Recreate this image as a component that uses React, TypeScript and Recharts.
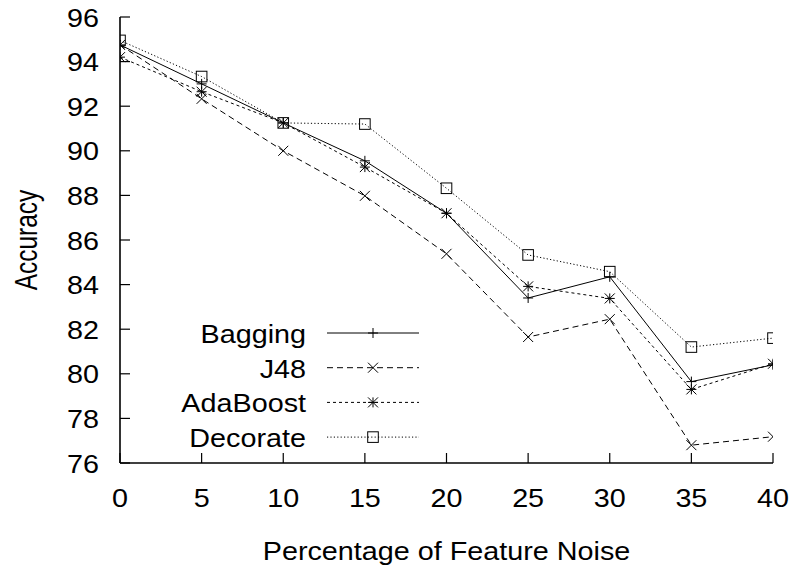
import React from 'react';
import { LineChart, Line, XAxis, YAxis, Legend } from 'recharts';

const noiseLevels = [0, 5, 10, 15, 20, 25, 30, 35, 40];
const bagging = [94.75, 93.0, 91.25, 89.55, 87.2, 83.4, 84.35, 79.65, 80.4];
const j48 = [94.75, 92.33, 90.0, 87.98, 85.38, 81.65, 82.45, 76.8, 77.18];
const adaboost = [94.2, 92.65, 91.25, 89.27, 87.2, 83.92, 83.38, 79.3, 80.45];
const decorate = [94.95, 93.33, 91.25, 91.2, 88.32, 85.33, 84.58, 81.2, 81.6];
const yTicks = [76, 78, 80, 82, 84, 86, 88, 90, 92, 94, 96];
const xTicks = [0, 5, 10, 15, 20, 25, 30, 35, 40];
const xTitle = 'Percentage of Feature Noise';
const yTitle = 'Accuracy';

const data = noiseLevels.map((x, i) => ({
  x,
  Bagging: bagging[i],
  J48: j48[i],
  AdaBoost: adaboost[i],
  Decorate: decorate[i],
}));

const FONT = '"Liberation Sans", Arial, Helvetica, sans-serif';
const FS = 25;
const SX = 1.15;
const TICK_LEN = 10;

type MarkerKind = 'plus' | 'cross' | 'star' | 'square';

const Marker = ({ cx, cy, kind }: { cx: number; cy: number; kind: MarkerKind }) => {
  const r = 5;
  if (kind === 'plus') {
    return <path d={`M${cx - r},${cy}h${2 * r}M${cx},${cy - r}v${2 * r}`} stroke="#000" strokeWidth={1} fill="none" />;
  }
  if (kind === 'cross') {
    return <path d={`M${cx - r},${cy - r}L${cx + r},${cy + r}M${cx - r},${cy + r}L${cx + r},${cy - r}`} stroke="#000" strokeWidth={1} fill="none" />;
  }
  if (kind === 'star') {
    return (
      <path
        d={`M${cx - r},${cy}h${2 * r}M${cx},${cy - r}v${2 * r}M${cx - r},${cy - r}L${cx + r},${cy + r}M${cx - r},${cy + r}L${cx + r},${cy - r}`}
        stroke="#000"
        strokeWidth={1}
        fill="none"
      />
    );
  }
  return <rect x={cx - 5.3} y={cy - 5.3} width={10.6} height={10.6} stroke="#000" strokeWidth={1} fill="none" />;
};

const series: { key: string; dash?: string; marker: MarkerKind }[] = [
  { key: 'Bagging', marker: 'plus' },
  { key: 'J48', dash: '6 4', marker: 'cross' },
  { key: 'AdaBoost', dash: '3 3', marker: 'star' },
  { key: 'Decorate', dash: '1.2 2.2', marker: 'square' },
];

const makeDot = (kind: MarkerKind, name: string) => (p: any) => (
  <Marker key={`${name}-${p.index}`} cx={p.cx} cy={p.cy} kind={kind} />
);

const LeftTick = (p: any) => {
  const { x, y, payload } = p;
  return (
    <g>
      <line x1={x} x2={x + TICK_LEN} y1={y} y2={y} stroke="#000" strokeWidth={1.2} />
      <text
        transform={`translate(${x - 21},${y + 9.5}) scale(${SX},1)`}
        textAnchor="end"
        fontSize={FS}
        fontFamily={FONT}
        fill="#000"
      >
        {payload.value}
      </text>
    </g>
  );
};

const RightTick = (p: any) => {
  const { x, y } = p;
  return <line x1={x - TICK_LEN} x2={x} y1={y} y2={y} stroke="#000" strokeWidth={1.2} />;
};

const BottomTick = (p: any) => {
  const { x, y, payload } = p;
  return (
    <g>
      <line x1={x} x2={x} y1={y - TICK_LEN} y2={y} stroke="#000" strokeWidth={1.2} />
      <text
        transform={`translate(${x},${y + 44}) scale(${SX},1)`}
        textAnchor="middle"
        fontSize={FS}
        fontFamily={FONT}
        fill="#000"
      >
        {payload.value}
      </text>
    </g>
  );
};

const TopTick = (p: any) => {
  const { x, y } = p;
  return <line x1={x} x2={x} y1={y} y2={y + TICK_LEN} stroke="#000" strokeWidth={1.2} />;
};

const XTitle = () => (
  <text
    transform={`translate(446.5,559.5) scale(${SX},1)`}
    textAnchor="middle"
    fontSize={FS}
    fontFamily={FONT}
    fill="#000"
  >
    {xTitle}
  </text>
);

const YTitle = () => (
  <text
    transform={`translate(37,240) scale(1.3,1) rotate(-90)`}
    textAnchor="middle"
    fontSize={24.5}
    fontFamily={FONT}
    fill="#000"
  >
    {yTitle}
  </text>
);

const LegendBox = () => {
  const rows = series.map((s, i) => ({ ...s, y: 18 + i * 34.7 }));
  return (
    <svg width={270} height={140} style={{ overflow: 'visible' }}>
      {rows.map((r) => (
        <g key={r.key}>
          <text
            transform={`translate(146,${r.y + 10}) scale(${SX},1)`}
            textAnchor="end"
            fontSize={FS}
            fontFamily={FONT}
            fill="#000"
          >
            {r.key}
          </text>
          <line x1={167} x2={259} y1={r.y} y2={r.y} stroke="#000" strokeWidth={1} strokeDasharray={r.dash} />
          <Marker cx={213} cy={r.y} kind={r.marker} />
        </g>
      ))}
    </svg>
  );
};

export default function App() {
  return (
    <div style={{ position: 'absolute', left: 0, top: 0, background: '#fff' }}>
      <LineChart width={790} height={571} data={data} margin={{ top: 17, right: 17, left: 0, bottom: 0 }}>
        <XAxis
          dataKey="x"
          type="number"
          domain={[0, 40]}
          ticks={xTicks}
          interval={0}
          height={108}
          tickSize={0}
          tickMargin={0}
          tickLine={false}
          axisLine={{ stroke: '#000', strokeWidth: 1.6 }}
          tick={<BottomTick />}
          allowDataOverflow
          label={{ content: () => <XTitle /> }}
        />
        <XAxis
          xAxisId="top"
          orientation="top"
          dataKey="x"
          type="number"
          domain={[0, 40]}
          ticks={xTicks}
          interval={0}
          height={0}
          tickSize={0}
          tickMargin={0}
          tickLine={false}
          axisLine={{ stroke: '#000', strokeWidth: 1.6 }}
          tick={<TopTick />}
          allowDataOverflow
        />
        <YAxis
          type="number"
          domain={[76, 96]}
          ticks={yTicks}
          interval={0}
          width={120}
          tickSize={0}
          tickMargin={0}
          tickLine={false}
          axisLine={{ stroke: '#000', strokeWidth: 1.6 }}
          tick={<LeftTick />}
          allowDataOverflow
          label={{ content: () => <YTitle /> }}
        />
        <YAxis
          yAxisId="right"
          orientation="right"
          type="number"
          domain={[76, 96]}
          ticks={yTicks}
          interval={0}
          width={0}
          tickSize={0}
          tickMargin={0}
          tickLine={false}
          axisLine={{ stroke: '#000', strokeWidth: 1.6 }}
          tick={<RightTick />}
          allowDataOverflow
        />
        {series.map((s) => (
          <Line
            key={s.key}
            dataKey={s.key}
            type="linear"
            stroke="#000"
            strokeWidth={1}
            strokeDasharray={s.dash}
            dot={makeDot(s.marker, s.key)}
            activeDot={false}
            isAnimationActive={false}
          />
        ))}
        <Legend
          layout="vertical"
          align="center"
          verticalAlign="middle"
          content={() => <LegendBox />}
          wrapperStyle={{ position: 'absolute', left: 160, top: 315, width: 270, height: 140 }}
        />
      </LineChart>
    </div>
  );
}
